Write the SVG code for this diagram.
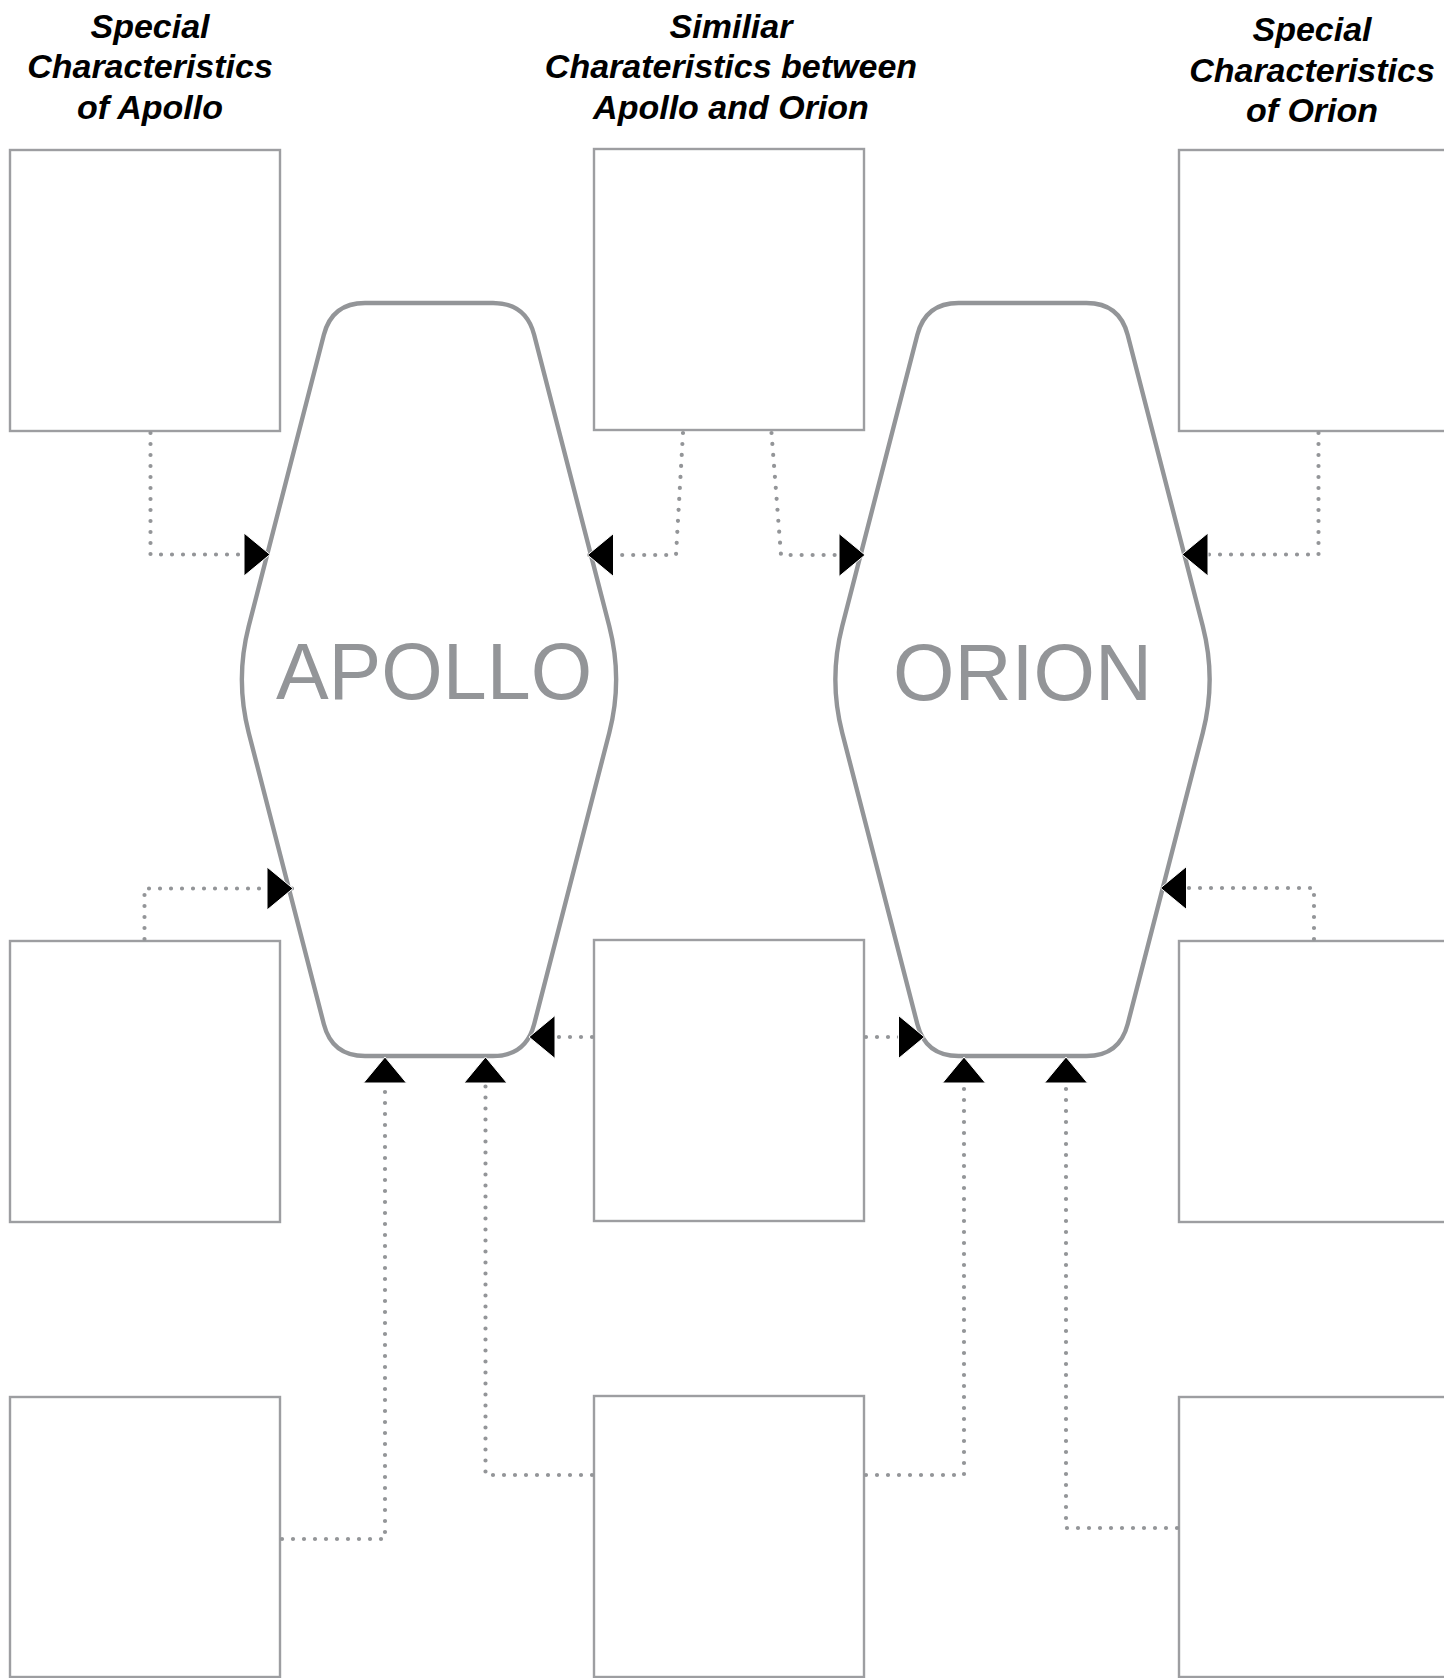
<svg xmlns="http://www.w3.org/2000/svg" width="1444" height="1678" viewBox="0 0 1444 1678">
  <style>
    .box { fill: #ffffff; stroke: #9d9ea1; stroke-width: 2.4; }
    .hex { fill: #ffffff; stroke: #939598; stroke-width: 4.4; stroke-linejoin: round; }
    .hexlabel { font-family: "Liberation Sans", Arial, sans-serif; font-size: 79px; fill: #939598; text-anchor: middle; }
    .title { font-family: "Liberation Sans", Arial, sans-serif; font-size: 34px; font-weight: bold; font-style: italic; fill: #000000; text-anchor: middle; }
    .conn { fill: none; stroke: #939598; stroke-width: 4.2; stroke-linecap: round; stroke-dasharray: 0 11; marker-end: url(#arrow); }
  </style>
  <defs>
    <marker id="arrow" markerUnits="userSpaceOnUse" markerWidth="28" markerHeight="45" refX="26" refY="21.5" orient="auto" viewBox="-1 -1 28 45" overflow="visible">
      <path d="M0,0 L26,21.5 L0,43 Z" fill="#000000" stroke="#ffffff" stroke-width="1"/>
    </marker>
  </defs>
  <rect x="0" y="0" width="1444" height="1678" fill="#ffffff"/>

  <g id="title-apollo">
    <text class="title" x="150" y="37.5">Special</text>
    <text class="title" x="150" y="78">Characteristics</text>
    <text class="title" x="150" y="118.5">of Apollo</text>
  </g>
  <g id="title-similar">
    <text class="title" x="731" y="37.5">Similiar</text>
    <text class="title" x="731" y="78">Charateristics between</text>
    <text class="title" x="731" y="118.5">Apollo and Orion</text>
  </g>
  <g id="title-orion">
    <text class="title" x="1312" y="41">Special</text>
    <text class="title" x="1312" y="81.5">Characteristics</text>
    <text class="title" x="1312" y="122">of Orion</text>
  </g>

  <g id="box-apollo-1"><rect class="box" x="10" y="150" width="270" height="281"/></g>
  <g id="box-similar-1"><rect class="box" x="594" y="149" width="270" height="281"/></g>
  <g id="box-orion-1"><rect class="box" x="1179" y="150" width="270" height="281"/></g>
  <g id="box-apollo-2"><rect class="box" x="10" y="941" width="270" height="281"/></g>
  <g id="box-similar-2"><rect class="box" x="594" y="940" width="270" height="281"/></g>
  <g id="box-orion-2"><rect class="box" x="1179" y="941" width="270" height="281"/></g>
  <g id="box-apollo-3"><rect class="box" x="10" y="1397" width="270" height="280"/></g>
  <g id="box-similar-3"><rect class="box" x="594" y="1396" width="270" height="281"/></g>
  <g id="box-orion-3"><rect class="box" x="1179" y="1397" width="270" height="280"/></g>

  <g id="apollo">
    <path class="hex" d="M365,303 L493,303 Q526,303 534.2,335 L609.3,626.3 Q623,679.5 609.3,732.7 L534.2,1024 Q526,1056 493,1056 L365,1056 Q332,1056 323.8,1024 L248.7,732.7 Q235,679.5 248.7,626.3 L323.8,335 Q332,303 365,303 Z"/>
    <text class="hexlabel" x="434" y="699">APOLLO</text>
  </g>
  <g id="orion" transform="translate(593.5,0)">
    <path class="hex" d="M365,303 L493,303 Q526,303 534.2,335 L609.3,626.3 Q623,679.5 609.3,732.7 L534.2,1024 Q526,1056 493,1056 L365,1056 Q332,1056 323.8,1024 L248.7,732.7 Q235,679.5 248.7,626.3 L323.8,335 Q332,303 365,303 Z"/>
    <text class="hexlabel" x="429" y="700">ORION</text>
  </g>

  <g id="connectors">
    <path class="conn" d="M150.5,433 V554.5 H270"/>
    <path class="conn" d="M683,433 L676,555 H587.5"/>
    <path class="conn" d="M771.5,433 L781,555 H865"/>
    <path class="conn" d="M1318.5,433 V554.5 H1182"/>
    <path class="conn" d="M144.5,939 V888.5 H293"/>
    <path class="conn" d="M592,1037 H529"/>
    <path class="conn" d="M866,1037 H924.5"/>
    <path class="conn" d="M1314,939 V888 H1160.5"/>
    <path class="conn" d="M282,1539 H385 V1057"/>
    <path class="conn" d="M592,1475 H485.5 V1057"/>
    <path class="conn" d="M866,1475 H964 V1057"/>
    <path class="conn" d="M1177,1528 H1066 V1057"/>
  </g>
</svg>
